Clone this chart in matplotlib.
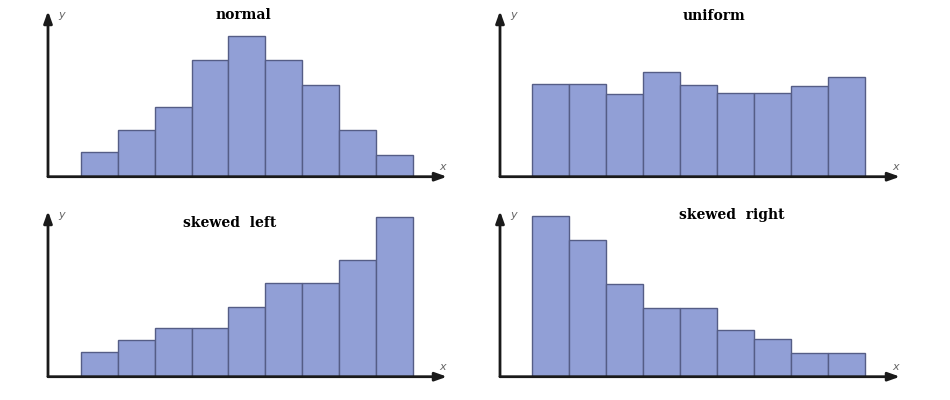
import numpy as np
import matplotlib
matplotlib.use('Agg')
import matplotlib.pyplot as plt

#bar heights (one unit = the smallest bar of "normal")
normal = [1.05, 2.0, 3.0, 5.0, 6.05, 5.0, 3.95, 2.0, 0.95]
uniform = [3.96, 3.96, 3.53, 4.49, 3.93, 3.6, 3.6, 3.89, 4.26]
skewedLeft = [1.07, 1.59, 2.07, 2.07, 3.0, 4.0, 4.0, 4.99, 6.86]
skewedRight = [6.89, 5.86, 3.96, 2.96, 2.96, 2.0, 1.62, 1.03, 1.03]
titles = ['normal', 'uniform', 'skewed  left', 'skewed  right']

barColor = '#919fd6'
edgeColor = '#555d86'
axisColor = '#1a1a1a'

W, H = 950, 400
fig = plt.figure(figsize=(9.5, 4), dpi=100)

#panel boxes in pixels: left, baseline y (from top), width, height
boxes = [(48, 176.7, 399, 165.7), (500, 176.7, 400, 165.7),
         (48, 376.7, 399, 165.7), (500, 376.7, 400, 165.7)]
xlims = [(-0.886, 9.915), (-0.865, 9.946), (-0.886, 9.915), (-0.865, 9.946)]
titlePos = [(0.489, 0.976), (0.534, 0.97), (0.456, 0.93), (0.58, 0.976)]
series = [normal, uniform, skewedLeft, skewedRight]

for box, xl, tp, vals, title in zip(boxes, xlims, titlePos, series, titles):
    l, base, w, h = box
    ax = fig.add_axes([l/W, (H-base)/H, w/W, h/H])
    ax.bar(np.arange(len(vals)), vals, width=1, align='edge', color=barColor,
           edgecolor=edgeColor, linewidth=1.0)
    ax.set_xlim(*xl)
    ax.set_ylim(0, 7.1)
    for s in ax.spines.values(): s.set_visible(False)
    ax.set_xticks([])
    ax.set_yticks([])
    ax.patch.set_alpha(0)
    #axes with arrow heads
    ax.annotate('', xy=(1, 0), xytext=(0, 0), xycoords='axes fraction',
                arrowprops=dict(arrowstyle='-|>,head_length=0.7,head_width=0.25',
                                color=axisColor, lw=2, shrinkA=0, shrinkB=0),
                annotation_clip=False)
    ax.annotate('', xy=(0, 1), xytext=(0, 0), xycoords='axes fraction',
                arrowprops=dict(arrowstyle='-|>,head_length=0.7,head_width=0.25',
                                color=axisColor, lw=2, shrinkA=0, shrinkB=0),
                annotation_clip=False)
    ax.text(0.035, 0.976, 'y', transform=ax.transAxes, fontsize=8, style='italic',
            color='#666666', ha='center', va='center')
    ax.text(0.99, 0.06, 'x', transform=ax.transAxes, fontsize=8, style='italic',
            color='#666666', ha='center', va='center')
    ax.text(tp[0], tp[1], title, transform=ax.transAxes, fontsize=10,
            fontweight='bold', family='DejaVu Serif', ha='center', va='center')

fig.savefig('out.png', dpi=100)
